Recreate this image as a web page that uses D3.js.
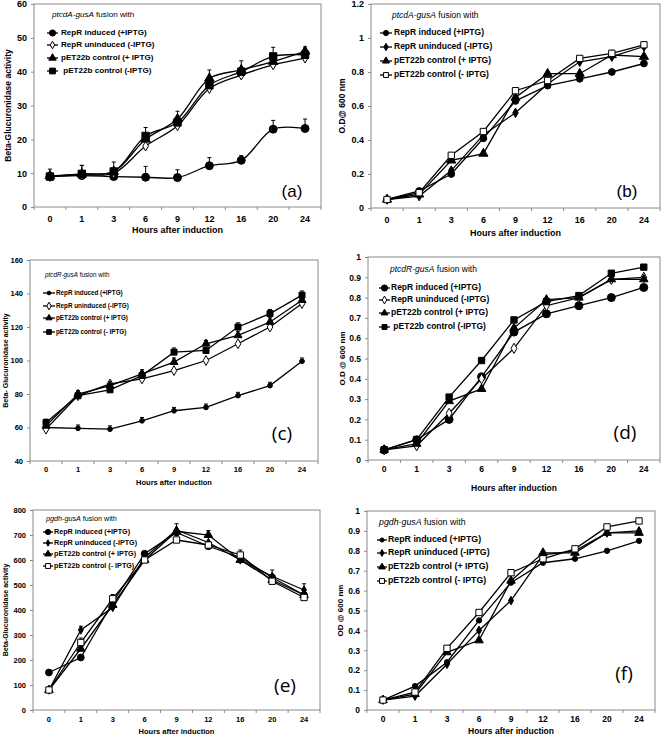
<!DOCTYPE html>
<html>
<head>
<meta charset="utf-8">
<script src="https://cdn.jsdelivr.net/npm/d3@7"></script>
<style>
body { margin: 0; background: #fff; }
text { font-family: "Liberation Sans", Arial, sans-serif; fill: #000; }
</style>
</head>
<body>
<svg id="fig" width="664" height="736"></svg>
<script>
var hours = ["0", "1", "3", "6", "9", "12", "16", "20", "24"];
var labelsA = ["RepR induced (+IPTG)", "RepR uninduced (-IPTG)", "pET22b control (+ IPTG)", " pET22b control (-IPTG)"];
var labelsB = ["RepR induced (+IPTG)", "RepR uninduced (-IPTG)", "pET22b control (+ IPTG)", "pET22b control (- IPTG)"];

// (a) ptcdA-gusA activity
var aInduced   = [9, 9.3, 9, 8.8, 8.7, 12.2, 13.8, 23, 23.2];
var aUninduced = [9, 9.5, 10, 18, 24, 35, 39, 42, 44];
var aPetPlus   = [9.2, 9.7, 10.5, 20, 26, 38, 40.5, 43, 46];
var aPetMinus  = [9, 9.8, 10.5, 21, 25, 36, 40, 44.5, 45];
var aErrInduced = [2.2, 3, 0, 3.2, 2.3, 2.4, 1.4, 2.6, 2.8];
var aErrPetMinus = [0, 2.5, 2.8, 2.5, 3.3, 4.5, 3.2, 2.7, 2.3];
// (b) ptcdA-gusA OD
var bInduced   = [0.05, 0.1, 0.2, 0.41, 0.63, 0.72, 0.76, 0.8, 0.85];
var bUninduced = [0.05, 0.07, 0.22, 0.43, 0.56, 0.73, 0.86, 0.89, 0.95];
var bPetPlus   = [0.05, 0.08, 0.28, 0.32, 0.65, 0.79, 0.79, 0.9, 0.89];
var bPetMinus  = [0.05, 0.09, 0.31, 0.45, 0.69, 0.75, 0.88, 0.91, 0.96];
// (c) ptcdR-gusA activity
var cInduced   = [60, 59.5, 59, 64, 70, 72, 79, 85, 99.5];
var cUninduced = [59, 79, 86, 89, 94, 100, 110, 120, 134];
var cPetPlus   = [61, 80, 85, 92, 99, 110, 115, 123, 136];
var cPetMinus  = [63, 79, 82.5, 91, 105, 106, 120, 128, 139];
var cErrInduced = [2, 2, 2, 2, 2, 2, 2, 2, 2];
var cErrPetPlus = [2, 2, 2.5, 2.5, 2.5, 2, 2.5, 2.5, 2.5];
var cErrPetMinus = [2, 2, 2, 2.5, 2.5, 2, 2.5, 2.5, 2.5];
// (d) ptcdR-gusA OD
var dInduced   = [0.05, 0.1, 0.2, 0.41, 0.63, 0.72, 0.76, 0.8, 0.85];
var dUninduced = [0.05, 0.07, 0.23, 0.4, 0.55, 0.76, 0.8, 0.89, 0.9];
var dPetPlus   = [0.05, 0.08, 0.29, 0.35, 0.65, 0.79, 0.8, 0.89, 0.89];
var dPetMinus  = [0.05, 0.1, 0.31, 0.49, 0.69, 0.78, 0.81, 0.92, 0.95];
// (e) pgdh-gusA activity
var eInduced   = [150, 210, 430, 625, 710, 655, 610, 530, 460];
var eUninduced = [80, 320, 410, 610, 720, 670, 600, 535, 480];
var ePetPlus   = [80, 245, 420, 600, 715, 700, 600, 520, 460];
var ePetMinus  = [80, 270, 445, 600, 680, 660, 620, 515, 450];
var eErrUninduced = [0, 15, 0, 0, 25, 0, 0, 25, 25];
var eErrPetPlus = [0, 0, 0, 0, 0, 18, 0, 0, 0];
var eErrPetMinus = [0, 18, 17, 25, 0, 0, 20, 0, 0];
// (f) pgdh-gusA OD
var fInduced   = [0.05, 0.12, 0.24, 0.45, 0.64, 0.74, 0.76, 0.8, 0.85];
var fUninduced = [0.05, 0.07, 0.23, 0.4, 0.55, 0.78, 0.8, 0.89, 0.9];
var fPetPlus   = [0.05, 0.08, 0.29, 0.35, 0.65, 0.79, 0.79, 0.89, 0.89];
var fPetMinus  = [0.05, 0.09, 0.31, 0.49, 0.69, 0.76, 0.81, 0.92, 0.95];

var zeros = hours.map(function() { return 0; });

// marker styles: [symbol type, size, filled]
var panels = [
	{ id: "(a)", gene: "ptcdA-gusA", ytitle: "Beta-Glucuronidase activity", labels: labelsA,
		series: [aInduced, aUninduced, aPetPlus, aPetMinus], errs: [aErrInduced, zeros, zeros, aErrPetMinus],
		marks: [[d3.symbolCircle, 50, true], [d3.symbolDiamond, 28, false], [d3.symbolTriangle, 40, true], [d3.symbolSquare, 55, true]],
		smooth: true, left: 34, right: 321, top: 4, bottom: 207, domain: [0, 60], step: 10, fmt: d3.format("d"),
		tickFont: 9, tickY: 222, titleY: 233, ytX: 9, legFont: 8.1, legTitle: [52, 17], legY: [33, 45, 58, 71], legX: [47, 58, 61],
		lab: [292, 193, 17, "Liberation Sans"] },
	{ id: "(b)", gene: "ptcdA-gusA", ytitle: "O.D@ 600 nm", labels: labelsB,
		series: [bInduced, bUninduced, bPetPlus, bPetMinus], errs: [zeros, zeros, zeros, zeros],
		marks: [[d3.symbolCircle, 36, true], [d3.symbolDiamond, 26, true], [d3.symbolTriangle, 36, true], [d3.symbolSquare, 40, false]],
		smooth: false, left: 371, right: 660, top: 4, bottom: 208, domain: [0, 1.2], step: 0.2, fmt: function(d) { return d3.format(".1~f")(d); },
		tickFont: 9, tickY: 223, titleY: 236, ytX: 343, legFont: 8.5, legTitle: [392, 18], legY: [33, 47, 61, 75], legX: [380, 392, 394],
		lab: [627, 193, 17, "Liberation Sans"] },
	{ id: "(c)", gene: "ptcdR-gusA", ytitle: "Beta- Glucuronidase activity", labels: labelsB,
		series: [cInduced, cUninduced, cPetPlus, cPetMinus], errs: [cErrInduced, zeros, cErrPetPlus, cErrPetMinus],
		marks: [[d3.symbolCircle, 18, true], [d3.symbolDiamond, 28, false], [d3.symbolTriangle, 28, true], [d3.symbolSquare, 36, true]],
		smooth: false, left: 30, right: 318, top: 260, bottom: 461, domain: [40, 160], step: 20, fmt: d3.format("d"),
		tickFont: 7.5, tickY: 472, titleY: 485, ytX: 6, legFont: 6.3, legTitle: [45, 277], legY: [293, 306, 318, 332], legX: [43, 55, 56],
		lab: [282, 435, 19, "Open Sans"] },
	{ id: "(d)", gene: "ptcdR-gusA", ytitle: "O.D @ 600 nm", labels: labelsA,
		series: [dInduced, dUninduced, dPetPlus, dPetMinus], errs: [zeros, zeros, zeros, zeros],
		marks: [[d3.symbolCircle, 50, true], [d3.symbolDiamond, 30, false], [d3.symbolTriangle, 32, true], [d3.symbolSquare, 40, true]],
		smooth: false, left: 368, right: 660, top: 257, bottom: 460, domain: [0, 1], step: 0.1, fmt: function(d) { return d3.format(".1~f")(d); },
		tickFont: 8.5, tickY: 472, titleY: 491, ytX: 343, legFont: 8.5, legTitle: [390, 272], legY: [288, 300, 313, 327], legX: [379, 390, 391],
		lab: [625, 434, 19, "Open Sans"] },
	{ id: "(e)", gene: "pgdh-gusA", ytitle: "Beta-Glucuronidase activity", labels: labelsB,
		series: [eInduced, eUninduced, ePetPlus, ePetMinus], errs: [zeros, eErrUninduced, eErrPetPlus, eErrPetMinus],
		marks: [[d3.symbolCircle, 36, true], [d3.symbolDiamond, 20, true], [d3.symbolTriangle, 32, true], [d3.symbolSquare, 40, false]],
		smooth: false, left: 33, right: 320, top: 510, bottom: 710, domain: [0, 800], step: 100, fmt: d3.format("d"),
		tickFont: 7.5, tickY: 722, titleY: 734, ytX: 6, legFont: 7.2, legTitle: [46, 521], legY: [532, 543, 554, 566], legX: [43, 53, 54],
		lab: [285, 687, 19, "Open Sans"] },
	{ id: "(f)", gene: "pgdh-gusA", ytitle: "OD @ 600 nm", labels: labelsB,
		series: [fInduced, fUninduced, fPetPlus, fPetMinus], errs: [zeros, zeros, zeros, zeros],
		marks: [[d3.symbolCircle, 22, true], [d3.symbolDiamond, 22, true], [d3.symbolTriangle, 32, true], [d3.symbolSquare, 40, false]],
		smooth: false, left: 367, right: 655, top: 511, bottom: 710, domain: [0, 1], step: 0.1, fmt: function(d) { return d3.format(".1~f")(d); },
		tickFont: 8.5, tickY: 722, titleY: 734, ytX: 341, legFont: 8.8, legTitle: [379, 525], legY: [540, 553, 567, 581], legX: [377, 387, 388],
		lab: [624, 675, 19, "Open Sans"] }
];

var svg = d3.select("#fig");

function drawMark(g, m, x, y, scale) {
	g.append("path")
		.attr("d", d3.symbol().type(m[0]).size(m[1] * (scale || 1)))
		.attr("transform", "translate(" + x + "," + y + ")")
		.attr("fill", m[2] ? "#000" : "#fff")
		.attr("stroke", "#000")
		.attr("stroke-width", 1);
}

function makePanel(p) {
	var g = svg.append("g");

	var xBand = d3.scaleBand().domain(hours).range([p.left, p.right]);
	var xScale = function(h) { return xBand(h) + xBand.bandwidth() / 2; };
	var yScale = d3.scaleLinear().domain(p.domain).range([p.bottom, p.top]);

	var yTicks = d3.range(p.domain[0], p.domain[1] + p.step / 2, p.step).map(function(v) { return +v.toFixed(2); });

	// frame
	g.append("rect")
		.attr("x", p.left).attr("y", p.top)
		.attr("width", p.right - p.left).attr("height", p.bottom - p.top)
		.attr("fill", "none").attr("stroke", "#8a8a8a").attr("stroke-width", 1);

	var yAxis = d3.axisLeft(yScale).tickValues(yTicks).tickSize(3).tickPadding(4).tickFormat(p.fmt);
	var ya = g.append("g").attr("transform", "translate(" + p.left + ",0)").call(yAxis);
	ya.select(".domain").remove();
	ya.selectAll("line").attr("stroke", "#8a8a8a");
	ya.selectAll("text").attr("font-size", p.tickFont).attr("font-weight", "bold")
		.attr("font-family", "Liberation Sans, Arial, sans-serif");

	// category ticks sit between the categories
	g.selectAll(".xt").data(hours.concat(["end"])).enter().append("line")
		.attr("x1", function(h) { return h == "end" ? p.right : xBand(h); })
		.attr("x2", function(h) { return h == "end" ? p.right : xBand(h); })
		.attr("y1", p.bottom).attr("y2", p.bottom + 3)
		.attr("stroke", "#8a8a8a");

	g.selectAll(".xl").data(hours).enter().append("text")
		.attr("x", function(h) { return xScale(h); })
		.attr("y", p.tickY)
		.attr("text-anchor", "middle")
		.attr("font-size", p.tickFont).attr("font-weight", "bold")
		.text(function(h) { return h; });

	g.append("text")
		.attr("x", (p.left + p.right) / 2).attr("y", p.titleY)
		.attr("text-anchor", "middle")
		.attr("font-size", p.tickFont).attr("font-weight", "bold")
		.text("Hours after induction");

	g.append("text")
		.attr("transform", "translate(" + p.ytX + "," + (p.top + p.bottom) / 2 + ") rotate(-90)")
		.attr("text-anchor", "middle").attr("dominant-baseline", "middle")
		.attr("font-size", p.tickFont - 0.5).attr("font-weight", "bold")
		.text(p.ytitle);

	var line = d3.line()
		.x(function(d, i) { return xScale(hours[i]); })
		.y(function(d) { return yScale(d); })
		.curve(p.smooth ? d3.curveCatmullRom.alpha(0.5) : d3.curveLinear);

	p.series.forEach(function(vals, s) {
		// error bars, upward only
		p.errs[s].forEach(function(e, i) {
			if (!e) return;
			var cx = xScale(hours[i]);
			var ytop = yScale(vals[i] + e);
			g.append("line").attr("x1", cx).attr("x2", cx)
				.attr("y1", yScale(vals[i])).attr("y2", ytop).attr("stroke", "#000");
			g.append("line").attr("x1", cx - 2).attr("x2", cx + 2)
				.attr("y1", ytop).attr("y2", ytop).attr("stroke", "#000");
		});
		g.append("path").datum(vals)
			.attr("d", line)
			.attr("fill", "none").attr("stroke", "#000").attr("stroke-width", 1.3);
	});
	p.series.forEach(function(vals, s) {
		vals.forEach(function(v, i) {
			drawMark(g, p.marks[s], xScale(hours[i]), yScale(v));
		});
	});

	// legend
	var lt = g.append("text")
		.attr("x", p.legTitle[0]).attr("y", p.legTitle[1])
		.attr("font-size", p.legFont);
	lt.append("tspan").attr("font-style", "italic").text(p.gene);
	lt.append("tspan").text(" fusion with");

	p.labels.forEach(function(lab, s) {
		var ly = p.legY[s];
		g.append("line")
			.attr("x1", p.legX[0]).attr("x2", p.legX[1])
			.attr("y1", ly).attr("y2", ly)
			.attr("stroke", "#000").attr("stroke-width", 1.3);
		drawMark(g, p.marks[s], (p.legX[0] + p.legX[1]) / 2, ly, 0.6);
		g.append("text")
			.attr("x", p.legX[2]).attr("y", ly)
			.attr("dominant-baseline", "middle")
			.attr("font-size", p.legFont).attr("font-weight", "bold")
			.attr("xml:space", "preserve")
			.style("white-space", "pre")
			.text(lab);
	});

	g.append("text")
		.attr("x", p.lab[0]).attr("y", p.lab[1])
		.attr("text-anchor", "middle").attr("dominant-baseline", "middle")
		.attr("font-size", p.lab[2])
		.style("font-family", p.lab[3])
		.text(p.id);
}

panels.forEach(makePanel);
</script>
</body>
</html>
